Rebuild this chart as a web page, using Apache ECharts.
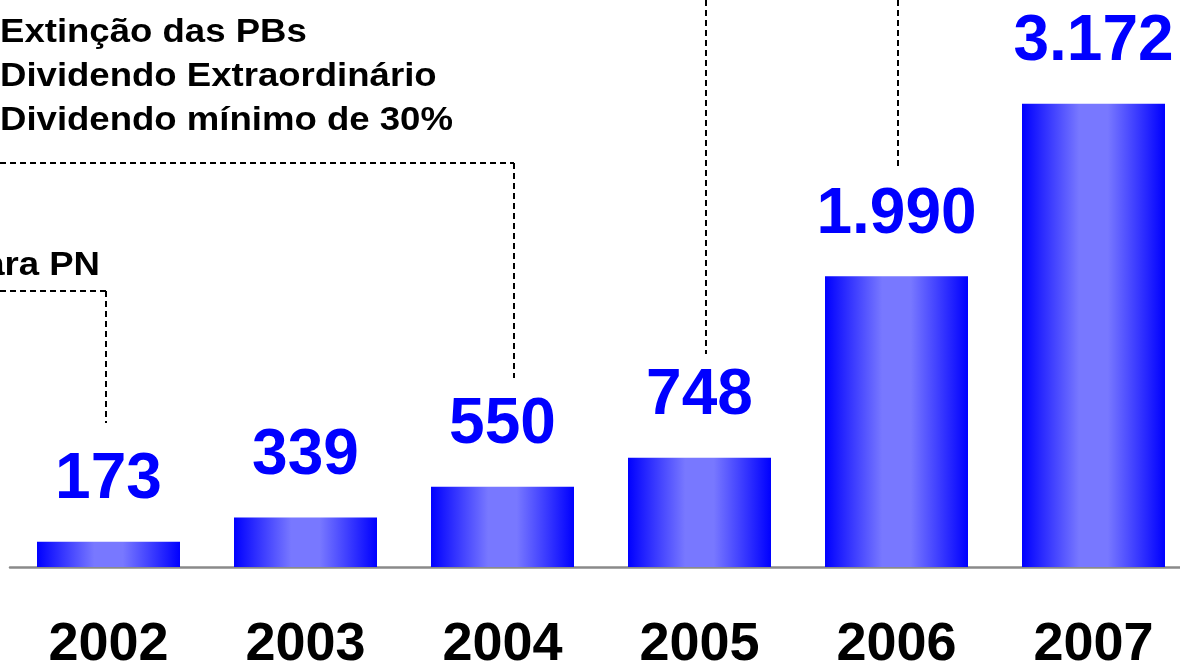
<!DOCTYPE html>
<html>
<head>
<meta charset="utf-8">
<script src="https://cdn.jsdelivr.net/npm/echarts@6/dist/echarts.min.js"></script>
<style>
html,body{margin:0;padding:0;background:#fff;}
#chart{width:1180px;height:663px;}
</style>
</head>
<body>
<div id="chart"></div>
<script>
const years = ['2002', '2003', '2004', '2005', '2006', '2007'];
const values = [173, 339, 550, 748, 1990, 3172];
const valueLabels = ['173', '339', '550', '748', '1.990', '3.172'];
const notesTop = ['Extinção das PBs', 'Dividendo Extraordinário', 'Dividendo mínimo de 30%'];
const noteLow = 'para PN';

const FONT = 'Arial';
const chart = echarts.init(document.getElementById('chart'), null, {renderer: 'canvas'});

const dash = {stroke: '#000', lineWidth: 2, lineDash: [6, 4], fill: null};
function line(x1, y1, x2, y2) {
  return {type: 'line', shape: {x1, y1, x2, y2}, style: dash, z: 10};
}
function txt(text, x, y, align) {
  return {type: 'text', x, y, z: 10, scaleX: 1.075, scaleY: 1,
    style: {text, fill: '#000', fontFamily: FONT, fontSize: 34, fontWeight: 'bold',
      align: align, textAlign: align, verticalAlign: 'bottom', textVerticalAlign: 'bottom'}};
}

const graphics = [
  txt(notesTop[0], 0, 50, 'left'),
  txt(notesTop[1], 0, 94, 'left'),
  txt(notesTop[2], 0, 138, 'left'),
  txt(noteLow, 100, 283, 'right'),
  line(0, 291, 106, 291), line(106, 291, 106, 423),
  line(0, 163, 514, 163), line(514, 163, 514, 378),
  line(706, 0, 706, 354),
  line(898, 0, 898, 166)
];

chart.setOption({
  animation: false,
  backgroundColor: '#fff',
  grid: {left: 10, right: -12, top: 12, bottom: 96, outerBoundsMode: 'none', containLabel: false},
  xAxis: {
    type: 'category', data: years,
    axisLine: {lineStyle: {color: '#8a8a8a', width: 2.5}},
    axisTick: {show: false},
    axisLabel: {fontSize: 54, fontWeight: 'bold', color: '#000', margin: 51, fontFamily: FONT}
  },
  yAxis: {type: 'value', min: 0, max: 3800, show: false, splitLine: {show: false}},
  series: [{
    type: 'bar', data: values, barWidth: 143,
    itemStyle: {color: {type: 'linear', x: 0, y: 0, x2: 1, y2: 0, colorStops: [
      {offset: 0, color: '#0000ff'},
      {offset: 0.4, color: '#7878ff'},
      {offset: 0.6, color: '#7878ff'},
      {offset: 1, color: '#0000ff'}
    ]}},
    label: {show: true, position: 'top', distance: 29, fontSize: 64, fontWeight: 'bold',
      color: '#0000ff', fontFamily: FONT,
      formatter: p => valueLabels[p.dataIndex]}
  }],
  graphic: graphics
});
</script>
</body>
</html>
